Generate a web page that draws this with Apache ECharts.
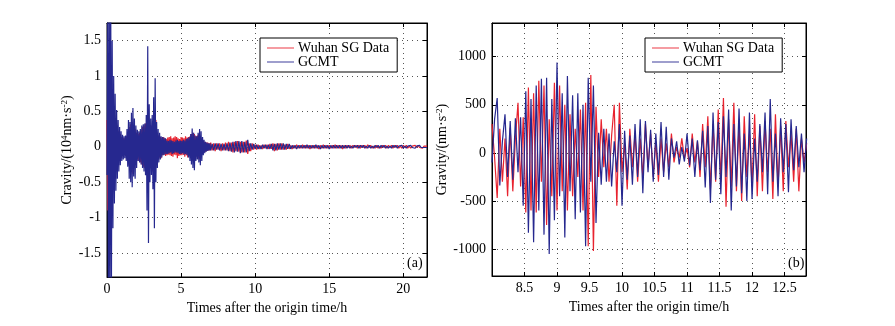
<!DOCTYPE html>
<html>
<head>
<meta charset="utf-8">
<script src="https://cdn.jsdelivr.net/npm/echarts@6/dist/echarts.min.js"></script>
<style>
  html, body { margin: 0; padding: 0; background: #fff; }
  #chart { width: 895px; height: 326px; }
</style>
</head>
<body>
<div id="chart"></div>
<script>
// panel (a), unit 10^4 nm/s^2
// first 7 h sampled every 0.05 h (from 0 h), then every 0.1 h (from 7 h)
const stepEarly = 0.05;
const startLate = 7.0;
const stepLate = 0.1;

const sgEarly = [
  0.38, -0.9, 1.3, -1.4, 1.2, -1.0, 0.9, -0.8, 0.7, -0.55,
  0.5, -0.45, 0.4, -0.32, 0.3, -0.25, 0.22, -0.2, 0.18, -0.16,
  0.14, -0.12, 0.12, -0.11, 0.12, -0.13, 0.15, -0.18, 0.2, -0.25,
  0.28, -0.3, 0.32, -0.35, 0.35, -0.38, 0.3, -0.3, 0.25, -0.22,
  0.2, -0.18, 0.18, -0.2, 0.2, -0.22, 0.24, -0.25, 0.28, -0.28,
  0.3, -0.3, 0.33, -0.35, 0.35, -0.45, 0.4, -0.35, 0.3, -0.3,
  0.3, -0.35, 0.35, -0.4, 0.38, -0.45, 0.38, -0.25, 0.2, -0.18,
  0.16, -0.15, 0.14, -0.16, 0.13, -0.12, 0.14, -0.11, 0.12, -0.13,
  0.11, -0.12, 0.13, -0.11, 0.14, -0.12, 0.15, -0.13, 0.12, -0.14,
  0.13, -0.11, 0.15, -0.12, 0.14, -0.16, 0.12, -0.13, 0.11, -0.12,
  0.14, -0.12, 0.13, -0.11, 0.12, -0.14, 0.15, -0.12, 0.13, -0.15,
  0.14, -0.13, 0.15, -0.16, 0.18, -0.2, 0.2, -0.22, 0.18, -0.14,
  0.15, -0.14, 0.16, -0.17, 0.18, -0.17, 0.15, -0.14, 0.12, -0.1,
  0.09, -0.08, 0.07, -0.07, 0.06, -0.06, 0.06, -0.05, 0.05, -0.05
];
const gcmtEarly = [
  -0.4, 1.8, -2.6, 2.6, -2.5, 2.2, -1.9, 1.5, -1.15, 1.0,
  -0.8, 0.75, -0.62, 0.52, -0.45, 0.38, -0.35, 0.28, -0.26, 0.22,
  -0.2, 0.17, -0.18, 0.15, -0.16, 0.16, -0.2, 0.25, -0.28, 0.38,
  -0.45, 0.35, -0.5, 0.48, -0.57, 0.55, -0.42, 0.4, -0.45, 0.3,
  -0.3, 0.24, -0.2, 0.22, -0.22, 0.25, -0.25, 0.3, -0.3, 0.32,
  -0.35, 0.33, -0.4, 0.45, -0.9, 1.42, -1.36, 0.6, -0.5, 0.4,
  -0.4, 0.45, -0.6, 0.7, -1.15, 0.97, -0.5, 0.35, -0.3, 0.25,
  -0.22, 0.2, -0.18, 0.15, -0.15, 0.14, -0.12, 0.13, -0.11, 0.12,
  -0.1, 0.09, -0.1, 0.08, -0.09, 0.1, -0.08, 0.09, -0.1, 0.08,
  -0.09, 0.07, -0.08, 0.09, -0.08, 0.1, -0.09, 0.08, -0.1, 0.09,
  -0.1, 0.08, -0.09, 0.1, -0.11, 0.09, -0.1, 0.11, -0.12, 0.12,
  -0.15, 0.14, -0.2, 0.18, -0.25, 0.26, -0.3, 0.2, -0.33, 0.16,
  -0.2, 0.15, -0.18, 0.2, -0.22, 0.25, -0.26, 0.22, -0.2, 0.14,
  -0.12, 0.1, -0.09, 0.07, -0.07, 0.06, -0.06, 0.05, -0.05, 0.05
];
const sgLate = [
  0.06, -0.05, 0.05, -0.06, 0.05, -0.04, 0.05, -0.06, 0.05, -0.05,
  0.06, -0.05, 0.07, -0.06, 0.06, -0.08, 0.07, -0.06, 0.08, -0.07,
  0.07, -0.08, 0.07, -0.08, 0.09, -0.1, 0.05, -0.06, 0.05, -0.04,
  0.03, -0.04, 0.03, -0.03, 0.02, -0.03, 0.03, -0.02, 0.03, -0.03,
  0.04, -0.03, 0.05, -0.06, 0.04, -0.05, 0.05, -0.04, 0.05, -0.04,
  0.03, -0.04, 0.04, -0.03, 0.02, -0.03, 0.02, -0.02, 0.03, -0.02,
  0.02, -0.02, 0.03, -0.02, 0.02, -0.02, 0.02, -0.03, 0.02, -0.02,
  0.02, -0.02, 0.02, -0.03, 0.02, -0.02, 0.03, -0.02, 0.02, -0.02,
  0.02, -0.02, 0.02, -0.02, 0.03, -0.02, 0.02, -0.02, 0.02, -0.03,
  0.02, -0.02, 0.02, -0.01, 0.02, -0.02, 0.02, -0.01, 0.02, -0.02,
  0.02, -0.02, 0.02, -0.01, 0.02, -0.02, 0.03, -0.01, 0.02, -0.02,
  0.01, -0.02, 0.02, -0.02, 0.01, -0.02, 0.02, -0.01, 0.02, -0.02,
  0.02, -0.01, 0.02, -0.02, 0.02, -0.01, 0.02, -0.02, 0.01, -0.02,
  0.02, -0.01, 0.02, -0.02, 0.01, -0.02, 0.01, -0.01, 0.02, -0.01,
  0.02, -0.01, 0.01, -0.02, 0.01, -0.01, 0.01
];
const gcmtLate = [
  -0.05, 0.04, -0.05, 0.05, -0.04, 0.05, -0.05, 0.04, -0.05, 0.04,
  -0.05, 0.05, -0.06, 0.06, -0.07, 0.07, -0.08, 0.08, -0.07, 0.08,
  -0.09, 0.08, -0.08, 0.07, -0.08, 0.1, -0.06, 0.05, -0.04, 0.04,
  -0.03, 0.03, -0.03, 0.02, -0.03, 0.03, -0.02, 0.03, -0.03, 0.03,
  -0.03, 0.04, -0.05, 0.04, -0.05, 0.05, -0.04, 0.05, -0.04, 0.05,
  -0.04, 0.04, -0.03, 0.04, -0.03, 0.02, -0.02, 0.02, -0.03, 0.02,
  -0.02, 0.02, -0.02, 0.02, -0.02, 0.03, -0.02, 0.02, -0.02, 0.02,
  -0.02, 0.03, -0.02, 0.02, -0.03, 0.02, -0.02, 0.02, -0.02, 0.02,
  -0.03, 0.02, -0.02, 0.02, -0.02, 0.02, -0.02, 0.02, -0.02, 0.02,
  -0.02, 0.02, -0.02, 0.02, -0.02, 0.01, -0.02, 0.02, -0.01, 0.02,
  -0.02, 0.02, -0.01, 0.02, -0.02, 0.01, -0.02, 0.02, -0.02, 0.01,
  -0.02, 0.02, -0.01, 0.02, -0.02, 0.02, -0.01, 0.02, -0.02, 0.01,
  -0.02, 0.01, -0.02, 0.02, -0.01, 0.02, -0.02, 0.01, -0.01, 0.02,
  -0.02, 0.01, -0.02, 0.01, -0.01, 0.02, -0.01, 0.01, -0.02, 0.01,
  -0.01, 0.02, -0.01, 0.01, -0.01, 0.01, -0.01
];

// panel (b): zoom 8 h - 12.8 h, unit nm/s^2, one sample every 0.04 h
const startB = 8.0;
const stepB = 0.04;
const sgB = [
  300, -50, -470, 250, -300, 150, -450, 260, -400, 150,
  520, -350, 370, -620, 680, -600, 620, -620, 750, -300,
  700, -750, 350, -450, 730, -600, 700, -400, 500, -600,
  400, -450, 250, -250, 450, -600, 520, -970, 810, -1020,
  480, -250, 350, -150, 250, -300, 180, 500, -550, 520,
  -200, 100, -380, 250, -150, 200, -300, 150, -250, 300,
  -150, 200, -250, 120, -300, 150, -200, 100, -150, 200,
  -100, 60, -50, 150, -60, 50, -150, 200, -100, 120,
  -250, 300, -150, 380, -380, 300, -300, 450, -300, 570,
  -560, 350, -350, 520, -400, 300, -500, 380, -250, 200,
  -350, 400, -450, 280, -400, 330, -200, 250, -480, 400,
  -350, 280, -400, 330, -150, 200, -300, 250, -400, 150,
  -100, 100
];
const gcmtB = [
  -100, 350, 570, -340, 120, 400, -250, 330, -280, 360,
  -200, 370, -550, 640, -830, 560, -930, 700, -600, 770,
  -850, 780, -1050, 560, -700, 940, -450, 620, -880, 800,
  -400, 600, -690, 620, -620, 500, -970, 780, -300, 700,
  -730, 210, -330, 250, -300, 200, -350, 120, -200, 300,
  -550, 230, -280, 180, -330, 300, -250, 350, -420, 330,
  -200, 240, -300, 200, -230, 320, -250, 270, -280, 150,
  -50, 120, -120, 60, -90, 200, -130, 150, -250, 130,
  -180, 230, -360, 280, -520, 420, -280, 320, -430, 380,
  -250, 450, -600, 300, -350, 460, -420, 200, -500, 420,
  -480, 150, -300, 300, -200, 420, -430, 560, -300, 200,
  -450, 360, -200, 300, -410, 350, -180, 280, -150, 200,
  -200, 150
];

const seriesNames = ['Wuhan SG Data', 'GCMT'];
const xNameText = 'Times after the origin time/h';
const yNameA = 'Cravity/(10{sup|4}nm·s{sup|-2})';
const yNameB = 'Gravity/(nm·s{sup|-2})';

const RED = '#e8232f';
const BLUE = '#26288f';
const FONT = '"Liberation Serif", "Times New Roman", serif';

const toPairs = (vals, t0, dt) => vals.map((v, i) => [+(t0 + i * dt).toFixed(2), v]);

const nameStyle = {
  fontFamily: FONT, fontSize: 14, color: '#000',
  rich: { sup: { fontFamily: FONT, fontSize: 9, color: '#000', verticalAlign: 'top' } }
};
const labelStyle = { color: '#000', fontFamily: FONT, fontSize: 14, formatter: v => String(v) };
const tick = { inside: true, length: 4, lineStyle: { color: '#000' } };
const frameLine = { onZero: false, lineStyle: { color: '#000' } };
const dotted = { show: true, lineStyle: { type: [1, 4], color: '#555', width: 1 } };

// main axes (with labels) + mirror axes on top / right for the inner ticks
function xAxes(grid, min, max, step, showMin) {
  return [
    {
      gridIndex: grid, type: 'value', min: min, max: max, minInterval: step, maxInterval: step,
      axisLine: frameLine, axisTick: tick,
      axisLabel: Object.assign({ margin: 5, showMaxLabel: false, showMinLabel: showMin }, labelStyle),
      splitLine: dotted,
      name: xNameText, nameLocation: 'middle', nameGap: 21, nameTextStyle: nameStyle
    },
    {
      gridIndex: grid, type: 'value', position: 'top', min: min, max: max, minInterval: step, maxInterval: step,
      axisLine: frameLine, axisTick: tick,
      axisLabel: { show: false }, splitLine: { show: false }
    }
  ];
}
function yAxes(grid, min, max, step, name, gap) {
  return [
    {
      gridIndex: grid, type: 'value', min: min, max: max, minInterval: step, maxInterval: step,
      axisLine: frameLine, axisTick: tick,
      axisLabel: Object.assign({ margin: 6, showMaxLabel: false, showMinLabel: false }, labelStyle),
      splitLine: dotted,
      name: name, nameLocation: 'middle', nameRotate: 90, nameGap: gap, nameTextStyle: nameStyle
    },
    {
      gridIndex: grid, type: 'value', position: 'right', min: min, max: max, minInterval: step, maxInterval: step,
      axisLine: frameLine, axisTick: tick,
      axisLabel: { show: false }, splitLine: { show: false }
    }
  ];
}

function legendAt(left) {
  return {
    left: left, top: 38, orient: 'vertical', itemGap: 0, itemWidth: 27, itemHeight: 12,
    icon: 'path://M0,0 L30,0 L30,1 L0,1 Z',
    padding: [3, 8, 3, 7], borderColor: '#000', borderWidth: 1, borderRadius: 0,
    backgroundColor: '#fff',
    textStyle: { fontFamily: FONT, fontSize: 14, color: '#000', lineHeight: 12, padding: [0, 0, 0, -1] },
    data: seriesNames
  };
}

function line(name, color, xi, yi, data, width) {
  return {
    name: name, type: 'line', xAxisIndex: xi, yAxisIndex: yi, data: data,
    symbol: 'none', showSymbol: false, clip: true,
    lineStyle: { color: color, width: width }, itemStyle: { color: color }
  };
}

const myChart = echarts.init(document.getElementById('chart'));
const option = {
  animation: false,
  backgroundColor: '#fff',
  grid: [
    { left: 107, top: 23, width: 320, height: 254, show: true, borderColor: '#000', borderWidth: 1, backgroundColor: '#fff' },
    { left: 492, top: 23, width: 314, height: 253, show: true, borderColor: '#000', borderWidth: 1, backgroundColor: '#fff' }
  ],
  xAxis: [].concat(xAxes(0, 0, 21.6, 5, true), xAxes(1, 8.0, 12.83, 0.5, false)),
  yAxis: [].concat(yAxes(0, -1.84, 1.75, 0.5, yNameA, 33), yAxes(1, -1280, 1350, 500, yNameB, 39)),
  legend: [legendAt(260), legendAt(645)],
  series: [
    line(seriesNames[0], RED, 0, 0, toPairs(sgEarly, 0, stepEarly).concat(toPairs(sgLate, startLate, stepLate)), 1.2),
    line(seriesNames[1], BLUE, 0, 0, toPairs(gcmtEarly, 0, stepEarly).concat(toPairs(gcmtLate, startLate, stepLate)), 1.2),
    line(seriesNames[0], RED, 2, 2, toPairs(sgB, startB, stepB), 1.2),
    line(seriesNames[1], BLUE, 2, 2, toPairs(gcmtB, startB, stepB), 1.2)
  ],
  graphic: [
    { type: 'text', left: 407, top: 256, z: 100, style: { text: '(a)', font: '14px ' + FONT, fill: '#000' } },
    { type: 'text', left: 788, top: 256, z: 100, style: { text: '(b)', font: '14px ' + FONT, fill: '#000' } }
  ]
};
myChart.setOption(option);
</script>
</body>
</html>
